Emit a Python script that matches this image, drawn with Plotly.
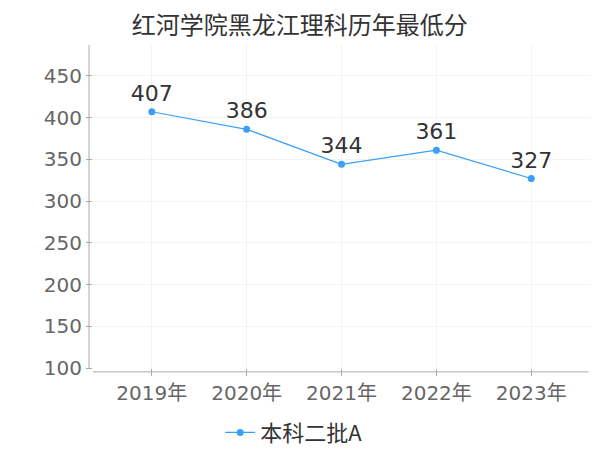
import plotly.graph_objects as go

years = ["2019年", "2020年", "2021年", "2022年", "2023年"]
scores = [407, 386, 344, 361, 327]
series_name = "本科二批A"
title = "红河学院黑龙江理科历年最低分"
y_ticks = [100, 150, 200, 250, 300, 350, 400, 450]

FONT = "DejaVu Sans, Noto Sans CJK SC"
color = "#3aa0f5"

fig = go.Figure()
fig.add_trace(go.Scatter(
    x=years, y=scores, mode="lines+markers+text", name=series_name,
    text=[str(v) for v in scores], textposition="top center",
    textfont=dict(size=22, color="#333333", family=FONT),
    line=dict(color=color, width=1.2),
    marker=dict(color=color, size=7),
    cliponaxis=False,
))

# page body has an 8px default margin; figure is sized to fit the 600x450 window
fig.update_layout(
    width=592, height=442,
    margin=dict(l=85, r=9, t=37, b=82, autoexpand=False),
    paper_bgcolor="white", plot_bgcolor="white",
    title=dict(text=title, x=0.493, xanchor="center", xref="container",
               y=0.961, yanchor="middle", yref="container",
               font=dict(size=24, color="#333333", family="Noto Sans CJK SC")),
    showlegend=True,
    legend=dict(orientation="h", x=0.403, xanchor="center", y=-0.2, yanchor="middle",
                font=dict(size=22, color="#333333", family="Noto Sans CJK SC")),
    xaxis=dict(
        type="category", range=[-0.62, 4.63],
        showgrid=True, gridcolor="#f3f3f3", gridwidth=1,
        showline=False, zeroline=False,
        ticks="outside", ticklen=7, tickcolor="#aaaaaa",
        tickfont=dict(size=20, color="#666666", family=FONT),
    ),
    yaxis=dict(
        range=[100, 487], tickvals=y_ticks,
        showgrid=True, gridcolor="#f3f3f3", gridwidth=1,
        showline=False, zeroline=False,
        ticks="outside", ticklen=6, tickcolor="#aaaaaa",
        tickfont=dict(size=20, color="#666666", family=FONT),
    ),
    shapes=[
        dict(type="line", xref="paper", yref="paper", x0=-0.008, x1=-0.008, y0=0, y1=1,
             line=dict(color="#aaaaaa", width=1)),
        dict(type="line", xref="paper", yref="paper", x0=0, x1=0.995, y0=-0.012, y1=-0.012,
             line=dict(color="#aaaaaa", width=1)),
    ],
)

fig.write_html("out.html")
